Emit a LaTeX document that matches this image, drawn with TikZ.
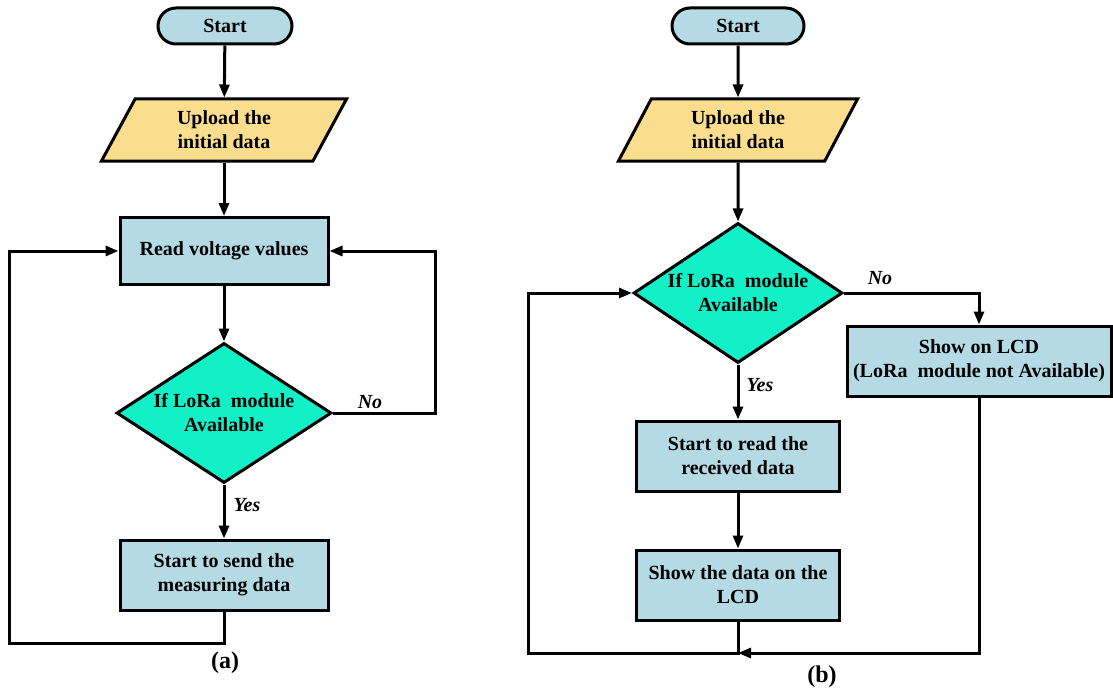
\documentclass[tikz,border=0pt]{standalone}
\usepackage{fontspec}
\setmainfont{Liberation Serif}
\usetikzlibrary{shapes.geometric,shapes.misc,arrows.meta}
\definecolor{boxblue}{RGB}{180,218,229}
\definecolor{inputgold}{RGB}{250,222,142}
\definecolor{decgreen}{RGB}{18,240,200}
\begin{document}
\begin{tikzpicture}[x=0.5pt,y=-0.5pt,
  font=\fontsize{10}{12}\selectfont\bfseries,
  every node/.style={align=center,inner sep=0pt},
  flowline/.style={line width=1.5pt},
  arr/.style={flowline,-{Triangle[length=6.5pt,width=5pt]}},
  termbox/.style={draw,line width=1.5pt,fill=boxblue,rounded rectangle,minimum width=67pt,minimum height=18pt},
  inbox/.style={draw,line width=1.5pt,fill=inputgold,trapezium,trapezium left angle=65,trapezium right angle=115,trapezium stretches=true,minimum height=31pt},
  procbox/.style={draw,line width=1.5pt,fill=boxblue,minimum height=35pt},
  decbox/.style={draw,line width=1.5pt,fill=decgreen,diamond,aspect=1.5,minimum height=70pt},
  answer/.style={font=\fontsize{10}{12}\selectfont\bfseries\itshape},
  caption/.style={font=\fontsize{12}{14}\selectfont\bfseries}]
\useasboundingbox (0,0) rectangle (1113,690);
\node[termbox] (startA) at (225,26) {Start};
\node[inbox,minimum width=123pt] (uploadA) at (224,130) {Upload the\\initial data};
\node[procbox,minimum width=104pt,minimum height=33.5pt] (readA) at (224,251) {Read voltage values};
\node[decbox,minimum width=107.5pt] (decA) at (224,413) {If LoRa~~module\\Available};
\node[procbox,minimum width=104pt] (sendA) at (224,575) {Start to send the\\measuring data};
\node[answer] (noA) at (370,402) {No};
\node[answer] (yesA) at (247,505) {Yes};
\node[caption] (capA) at (225,663) {(a)};
\coordinate (loopA) at (9,643);
\draw[arr] (startA) -- (uploadA);
\draw[arr] (uploadA) -- (readA);
\draw[arr] (readA) -- (decA);
\draw[arr] (decA) -- (sendA);
\draw[arr] (decA.east) -- ++(102,0) |- (readA.east);
\draw[arr] (sendA.south) |- (loopA) |- (readA.west);
\node[termbox,minimum width=66pt] (startB) at (738,26) {Start};
\node[inbox,minimum width=120pt] (uploadB) at (738,130) {Upload the\\initial data};
\node[decbox,minimum width=104.5pt] (decB) at (738,293) {If LoRa~~module\\Available};
\node[procbox,minimum width=101.5pt] (readB) at (738,456) {Start to read the\\received data};
\node[procbox,minimum width=101.5pt] (showB) at (738,585) {Show the data on the\\LCD};
\node[procbox,minimum width=132pt] (lcdB) at (979,361) {Show on LCD\\(LoRa~~module not Available)};
\node[answer] (noB) at (880,278) {No};
\node[answer] (yesB) at (760,385) {Yes};
\node[caption] (capB) at (822,677) {(b)};
\coordinate (joinB) at (738,653);
\coordinate (loopB) at (528,653);
\draw[arr] (startB) -- (uploadB);
\draw[arr] (uploadB) -- (decB);
\draw[arr] (decB) -- (readB);
\draw[arr] (readB) -- (showB);
\draw[arr] (decB.east) -| (lcdB.north);
\draw[arr] (showB.south) -- (joinB) -- (loopB) |- (decB.west);
\draw[arr] (lcdB.south) |- (joinB);
\end{tikzpicture}
\end{document}
